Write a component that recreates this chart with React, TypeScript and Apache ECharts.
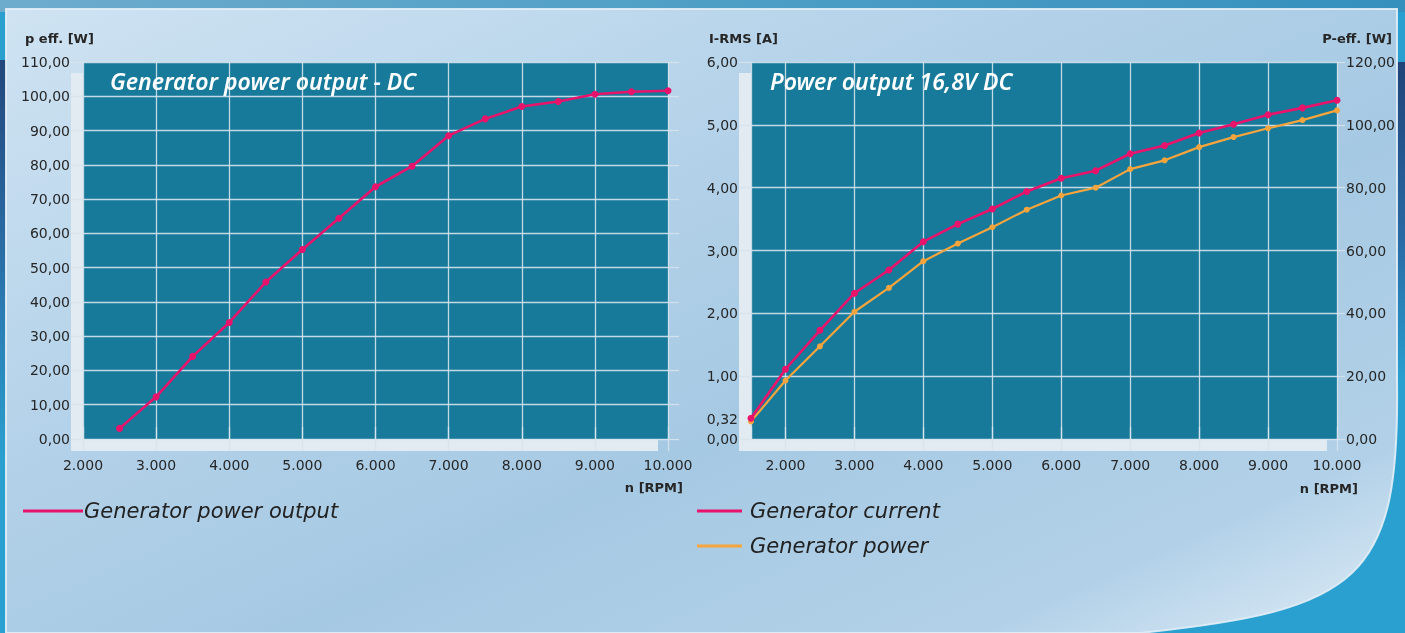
import React, { useEffect, useRef } from "react";
import * as echarts from "echarts";

// ---------- data ----------
const rpmLeft = [2500, 3000, 3500, 4000, 4500, 5000, 5500, 6000, 6500, 7000, 7500, 8000, 8500, 9000, 9500, 10000];
const powerLeft = [3.1, 12.3, 24.1, 34.0, 45.8, 55.3, 64.4, 73.6, 79.6, 88.5, 93.4, 97.0, 98.5, 100.6, 101.3, 101.6];

const rpmRight = [1500, 2000, 2500, 3000, 3500, 4000, 4500, 5000, 5500, 6000, 6500, 7000, 7500, 8000, 8500, 9000, 9500, 10000];
const currentRight = [0.33, 1.11, 1.73, 2.32, 2.69, 3.14, 3.42, 3.66, 3.94, 4.15, 4.27, 4.54, 4.67, 4.87, 5.01, 5.16, 5.27, 5.39];
const powerRight = [5.6, 18.6, 29.5, 40.5, 48.1, 56.6, 62.2, 67.4, 73.0, 77.5, 80.0, 85.9, 88.7, 92.9, 96.1, 98.9, 101.5, 104.6];

const xTicksRight = [1500, 2000, 3000, 4000, 5000, 6000, 7000, 8000, 9000, 10000];
const yLabelsCurrent = [0, 0.32, 1, 2, 3, 4, 5, 6];
const yTicksCurrent = [0, 1, 2, 3, 4, 5, 6];

const titleLeft = "Generator power output - DC";
const titleRight = "Power output 16,8V DC";
const nameLeftY = "p eff. [W]";
const nameRightY1 = "I-RMS [A]";
const nameRightY2 = "P-eff. [W]";
const nameX = "n [RPM]";
const seriesLeft = "Generator power output";
const seriesCurrent = "Generator current";
const seriesPower = "Generator power";

// ---------- style ----------
const PINK = "#e8136b";
const ORANGE = "#f6a43c";
const TEAL = "#177a9b";
const GRIDC = "rgba(214,227,237,0.9)";
const WALL = "#e3ebf2";
const FONT = "'DejaVu Sans', 'Noto Sans', sans-serif";
const TFONT = "'Noto Sans', 'Open Sans', sans-serif";
const LABEL = "#262626";

const panelPath = "M6,9 L1397,9 L1397,380 C1400,580 1360,610 1140,633 L6,633 Z";
echarts.graphic.registerShape("panelShape", echarts.graphic.extendPath(panelPath, {}));

const fmtX = (v: number) => {
  const t = Math.floor(v / 1000);
  const r = v % 1000;
  return t > 0 ? `${t}.${String(r).padStart(3, "0")}` : String(v);
};
const fmtY = (v: number) => v.toFixed(2).replace(".", ",");

const labelStyle = { color: LABEL, fontSize: 14, fontFamily: FONT };
const tickStyle = { color: GRIDC, width: 1.3 };

function buildOption() {
  const L = { left: 83, top: 62, width: 585, height: 377 };
  const R = { left: 751, top: 62, width: 586, height: 377 };

  const nameText = (text: string, x: number, y: number, align: string) => ({
    type: "text",
    x,
    y,
    z: 10,
    style: { text, fill: LABEL, font: `bold 13px ${FONT}`, align, verticalAlign: "middle" },
  });
  const titleText = (text: string, x: number, y: number) => ({
    type: "text",
    x,
    y,
    z: 10,
    style: { text, fill: "#ffffff", font: `italic 600 23px ${TFONT}`, align: "left", verticalAlign: "middle" },
  });

  const legendText = {
    color: "#222", fontSize: 21, fontStyle: "italic", fontFamily: FONT, lineHeight: 26,
  };

  return {
    animation: false,
    graphic: [
      { type: "rect", z: -20, shape: { x: 0, y: 0, width: 1405, height: 633 }, style: { fill: "#29a0d0" } },
      {
        type: "rect", z: -19, shape: { x: 0, y: 0, width: 1405, height: 12 },
        style: { fill: new echarts.graphic.LinearGradient(0, 0, 1, 0, [
          { offset: 0, color: "#6eaccd" }, { offset: 0.5, color: "#4e9fc6" }, { offset: 1, color: "#3590bd" },
        ]) },
      },
      {
        type: "rect", z: -19, shape: { x: 0, y: 60, width: 8, height: 400 },
        style: { fill: new echarts.graphic.LinearGradient(0, 0, 0, 1, [
          { offset: 0, color: "#23477c" }, { offset: 0.5, color: "#2a6fa8" }, { offset: 1, color: "#29a0d0" },
        ]) },
      },
      {
        type: "rect", z: -19, shape: { x: 1395, y: 62, width: 10, height: 320 },
        style: { fill: new echarts.graphic.LinearGradient(0, 0, 0, 1, [
          { offset: 0, color: "#1f4479" }, { offset: 0.55, color: "#2a6aa5" }, { offset: 1, color: "#29a0d0" },
        ]) },
      },
      {
        type: "panelShape", z: -18,
        style: {
          fill: new echarts.graphic.LinearGradient(0, 0, 1, 1, [
            { offset: 0, color: "#cfe3f2" },
            { offset: 0.35, color: "#b4d2e9" },
            { offset: 0.6, color: "#a6c9e3" },
            { offset: 0.85, color: "#b2d1e8" },
            { offset: 1, color: "#dfecf6" },
          ]),
          stroke: "rgba(226,238,247,0.9)",
          lineWidth: 2,
        },
      },
      // pseudo 3D walls / floors
      { type: "rect", z: -5, shape: { x: 71, y: 73, width: 12, height: 378 }, style: { fill: WALL } },
      { type: "rect", z: -5, shape: { x: 71, y: 439, width: 587, height: 12 }, style: { fill: WALL } },
      { type: "rect", z: -5, shape: { x: 739, y: 73, width: 12, height: 378 }, style: { fill: WALL } },
      { type: "rect", z: -5, shape: { x: 739, y: 439, width: 588, height: 12 }, style: { fill: WALL } },
      nameText(nameLeftY, 25, 38, "left"),
      nameText(nameX, 683, 487, "right"),
      nameText(nameRightY1, 709, 38, "left"),
      nameText(nameRightY2, 1392, 38, "right"),
      nameText(nameX, 1358, 488, "right"),
      titleText(titleLeft, 110, 81),
      titleText(titleRight, 770, 81),
    ],
    grid: [
      { ...L, show: true, backgroundColor: TEAL, borderWidth: 0, containLabel: false },
      { ...R, show: true, backgroundColor: TEAL, borderWidth: 0, containLabel: false },
    ],
    legend: [
      {
        data: [seriesLeft],
        left: 23, top: 498, padding: 0, icon: "rect", itemWidth: 60, itemHeight: 3,
        textStyle: { ...legendText, padding: [0, 0, 0, -4] },
      },
      {
        data: [seriesCurrent, seriesPower],
        orient: "vertical",
        left: 697, top: 498, padding: 0, icon: "rect", itemWidth: 45, itemHeight: 3, itemGap: 9,
        textStyle: { ...legendText, padding: [0, 0, 0, 3] },
      },
    ],
    xAxis: [
      {
        type: "value", gridIndex: 0, position: "bottom", min: 2000, max: 10000, interval: 1000,
        axisLine: { show: false },
        axisTick: { show: true, length: 12, lineStyle: tickStyle },
        axisLabel: { ...labelStyle, margin: 19, formatter: fmtX },
        splitLine: { show: true, lineStyle: tickStyle },
      },
      {
        type: "value", gridIndex: 0, position: "top", min: 2000, max: 10000, interval: 1000,
        axisLine: { show: false },
        axisTick: { show: true, length: 12, lineStyle: tickStyle },
        axisLabel: { show: false },
        splitLine: { show: false },
      },
      {
        type: "value", gridIndex: 1, position: "bottom", min: 1500, max: 10000,
        axisLine: { show: false },
        axisTick: { show: true, length: 12, lineStyle: tickStyle, customValues: xTicksRight },
        axisLabel: { ...labelStyle, margin: 19, formatter: fmtX, customValues: xTicksRight },
        splitLine: { show: true, lineStyle: tickStyle },
      },
      {
        type: "value", gridIndex: 1, position: "top", min: 1500, max: 10000,
        axisLine: { show: false },
        axisTick: { show: true, length: 12, lineStyle: tickStyle, customValues: xTicksRight },
        axisLabel: { show: false },
        splitLine: { show: false },
      },
    ],
    yAxis: [
      {
        type: "value", gridIndex: 0, position: "left", min: 0, max: 110, interval: 10,
        axisLine: { show: false },
        axisTick: { show: true, length: 12, lineStyle: tickStyle },
        axisLabel: { ...labelStyle, margin: 13, formatter: fmtY },
        splitLine: { show: true, lineStyle: tickStyle },
      },
      {
        type: "value", gridIndex: 0, position: "right", min: 0, max: 110, interval: 10,
        axisLine: { show: false },
        axisTick: { show: true, length: 11, lineStyle: tickStyle },
        axisLabel: { show: false },
        splitLine: { show: false },
      },
      {
        type: "value", gridIndex: 1, position: "left", min: 0, max: 6,
        axisLine: { show: false },
        axisTick: { show: true, length: 12, lineStyle: tickStyle, customValues: yTicksCurrent },
        axisLabel: { ...labelStyle, margin: 13, formatter: fmtY, customValues: yLabelsCurrent },
        splitLine: { show: true, lineStyle: tickStyle },
      },
      {
        type: "value", gridIndex: 1, position: "right", min: 0, max: 120, interval: 20,
        axisLine: { show: false },
        axisTick: { show: true, length: 8, lineStyle: tickStyle },
        axisLabel: { ...labelStyle, margin: 9, formatter: fmtY },
        splitLine: { show: false },
      },
    ],
    series: [
      {
        name: seriesLeft, type: "line", xAxisIndex: 0, yAxisIndex: 0,
        data: rpmLeft.map((x, i) => [x, powerLeft[i]]),
        color: PINK, symbol: "circle", symbolSize: 7,
        lineStyle: { color: PINK, width: 2.6 }, itemStyle: { color: PINK }, z: 5,
      },
      {
        name: seriesPower, type: "line", xAxisIndex: 2, yAxisIndex: 3,
        data: rpmRight.map((x, i) => [x, powerRight[i]]),
        color: ORANGE, symbol: "circle", symbolSize: 6,
        lineStyle: { color: ORANGE, width: 2.2 }, itemStyle: { color: ORANGE }, z: 5,
      },
      {
        name: seriesCurrent, type: "line", xAxisIndex: 2, yAxisIndex: 2,
        data: rpmRight.map((x, i) => [x, currentRight[i]]),
        color: PINK, symbol: "circle", symbolSize: 7,
        lineStyle: { color: PINK, width: 2.6 }, itemStyle: { color: PINK }, z: 6,
      },
    ],
  };
}

export default function App() {
  const ref = useRef<HTMLDivElement>(null);
  useEffect(() => {
    if (!ref.current) return;
    const chart = echarts.init(ref.current, null, { renderer: "svg" });
    chart.setOption(buildOption() as any);
    return () => chart.dispose();
  }, []);
  return (
    <div
      ref={ref}
      style={{ position: "fixed", left: 0, top: 0, width: 1405, height: 633, overflow: "hidden" }}
    />
  );
}
